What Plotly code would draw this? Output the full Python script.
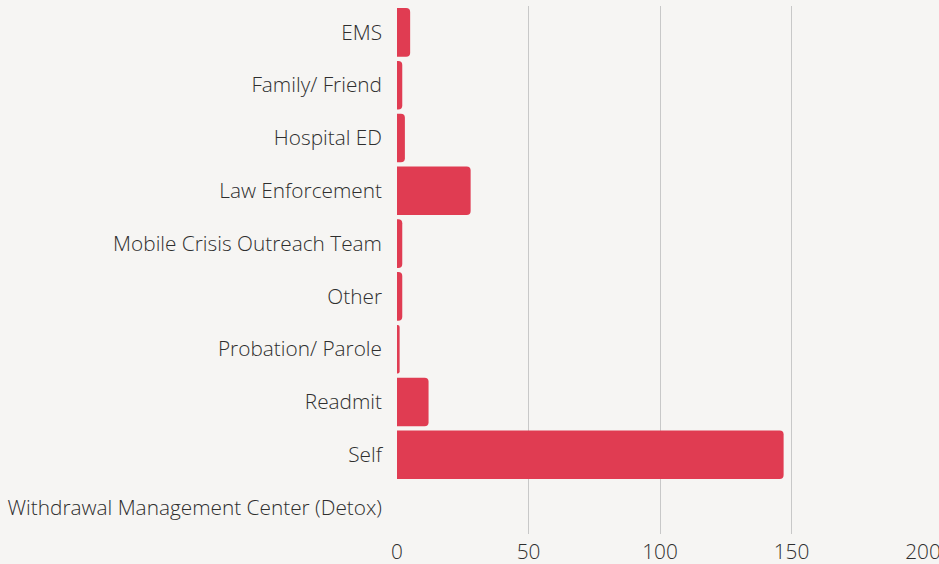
import plotly.graph_objects as go

categories = ["EMS", "Family/ Friend", "Hospital ED", "Law Enforcement",
              "Mobile Crisis Outreach Team", "Other", "Probation/ Parole",
              "Readmit", "Self", "Withdrawal Management Center (Detox)"]
values = [5, 2, 3, 28, 2, 2, 1, 12, 147, 0]
x_ticks = [0, 50, 100, 150, 200]

fig = go.Figure(go.Bar(
    x=values, y=categories, orientation="h",
    marker=dict(color="#e03c52", cornerradius=4, line=dict(width=0)),
    hoverinfo="x+y",
))

tf = dict(family="Open Sans", size=20.8, weight=300, color="#2e2e2e")
fig.update_layout(
    width=939, height=564,
    margin=dict(l=397, r=16, t=6, b=30, autoexpand=False),
    paper_bgcolor="#f6f5f3", plot_bgcolor="rgba(0,0,0,0)",
    bargap=0.08,
    showlegend=False,
    font=tf,
    xaxis=dict(range=[0, 200], tickvals=x_ticks, showgrid=True,
               gridcolor="#c8c8c8", gridwidth=1, zeroline=False,
               showline=False, fixedrange=True, tickfont=tf,
               ticklabelstandoff=3, ticklabeloverflow="allow",
               automargin=False),
    yaxis=dict(categoryorder="array", categoryarray=categories,
               autorange="reversed", showgrid=False, zeroline=False,
               showline=False, ticklabelstandoff=14, fixedrange=True,
               tickfont=tf, automargin=False),
)
fig.write_html("out.html", config={"displayModeBar": False},
               post_script="document.body.style.margin='0';document.body.style.padding='0';")
